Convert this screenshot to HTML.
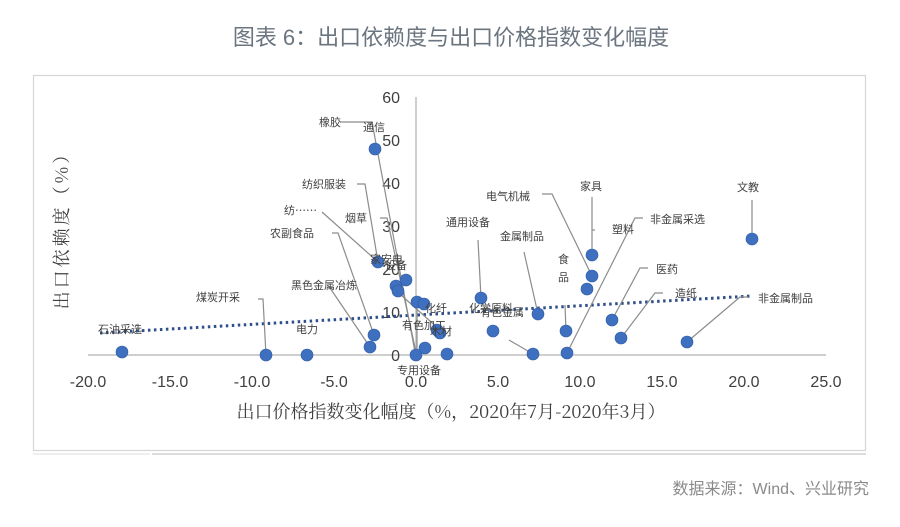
<!DOCTYPE html>
<html><head><meta charset="utf-8"><style>
html,body{margin:0;padding:0;background:#fff;}
body{width:900px;height:522px;overflow:hidden;}
svg text{font-family:"Liberation Sans","Noto Sans CJK SC",sans-serif;}
.s{font-family:"Noto Serif CJK SC","Liberation Serif",serif !important;}
</style></head><body>
<svg width="900" height="522" viewBox="0 0 900 522" xmlns="http://www.w3.org/2000/svg">
<text x="451" y="45" text-anchor="middle" font-size="22" fill="#6b7580">图表 6：出口依赖度与出口价格指数变化幅度</text>
<rect x="33.5" y="75.5" width="832" height="375" fill="none" stroke="#d6d6d6" stroke-width="1.2"/>
<line x1="33" y1="454" x2="150" y2="454" stroke="#eee" stroke-width="2"/>
<line x1="152" y1="454" x2="866" y2="454" stroke="#ddd" stroke-width="2"/>
<!-- axes -->
<line x1="88" y1="355" x2="826" y2="355" stroke="#bfbfbf" stroke-width="1.5"/>
<line x1="416" y1="97" x2="416" y2="355" stroke="#bfbfbf" stroke-width="1.5"/>
<g font-size="16" fill="#404040" text-anchor="end">
<text x="400" y="103">60</text><text x="400" y="146">50</text><text x="400" y="189">40</text>
<text x="400" y="232">30</text><text x="400" y="275">20</text><text x="400" y="318">10</text><text x="400" y="361">0</text>
</g>
<g font-size="16" fill="#404040" text-anchor="middle">
<text x="88" y="387">-20.0</text><text x="170" y="387">-15.0</text><text x="252" y="387">-10.0</text>
<text x="334" y="387">-5.0</text><text x="416" y="387">0.0</text><text x="498" y="387">5.0</text>
<text x="580" y="387">10.0</text><text x="662" y="387">15.0</text><text x="744" y="387">20.0</text><text x="826" y="387">25.0</text>
</g>
<text class="s" x="451" y="418" text-anchor="middle" font-size="18" fill="#404040">出口价格指数变化幅度（%，2020年7月-2020年3月）</text>
<text class="s" transform="translate(68,226) rotate(-90)" text-anchor="middle" font-size="18" fill="#404040" letter-spacing="3">出口依赖度（%）</text>
<!-- trend -->
<line x1="100" y1="333" x2="752" y2="296" stroke="#2f4f8a" stroke-width="3" stroke-dasharray="2.5 3.5"/>
<!-- leader lines -->
<g stroke="#8c8c8c" stroke-width="1.2" fill="none">
<polyline points="258,299 263,299 266,355"/>
<polyline points="340,122 372,122 415,352"/>
<polyline points="357,184 365,184 378,262"/>
<polyline points="322,212 378,262"/>
<polyline points="332,233 338,233 374,335"/>
<polyline points="328,285 370,347"/>
<polyline points="380,218 387,218 416,352"/>
<polyline points="401,295 440,330"/>
<polyline points="478,240 481,298"/>
<polyline points="524,252 538,314"/>
<polyline points="565,305 566,331"/>
<polyline points="542,194 552,194 592,276"/>
<polyline points="592,197 592,255"/>
<polyline points="595,230 592,230"/>
<polyline points="643,218 635,218 567,353"/>
<polyline points="648,268 640,268 612,320"/>
<polyline points="663,293 655,293 621,338"/>
<polyline points="748,297 740,297 687,342"/>
<polyline points="752,200 752,239"/>
<polyline points="509,340 533,354"/>
<polyline points="417,300 417,355"/>
</g>
<!-- points -->
<g fill="#3f6fbf" stroke="#2e5aa3" stroke-width="0.6">
<circle cx="122" cy="352" r="6"/><circle cx="266" cy="355" r="6"/><circle cx="307" cy="355" r="6"/>
<circle cx="370" cy="347" r="6"/><circle cx="374" cy="335" r="6"/><circle cx="375" cy="149" r="6"/>
<circle cx="378" cy="262" r="6"/><circle cx="396" cy="286" r="6"/><circle cx="398" cy="291" r="6"/>
<circle cx="406" cy="280" r="6"/><circle cx="416" cy="355" r="6"/><circle cx="417" cy="302" r="6"/>
<circle cx="424" cy="304" r="6"/><circle cx="425" cy="348" r="6"/><circle cx="437" cy="330" r="6"/>
<circle cx="440" cy="333" r="6"/><circle cx="447" cy="354" r="6"/><circle cx="481" cy="298" r="6"/>
<circle cx="493" cy="331" r="6"/><circle cx="533" cy="354" r="6"/><circle cx="538" cy="314" r="6"/>
<circle cx="566" cy="331" r="6"/><circle cx="567" cy="353" r="6"/><circle cx="587" cy="289" r="6"/>
<circle cx="592" cy="276" r="6"/><circle cx="592" cy="255" r="6"/><circle cx="612" cy="320" r="6"/>
<circle cx="621" cy="338" r="6"/><circle cx="687" cy="342" r="6"/><circle cx="752" cy="239" r="6"/>
</g>
<!-- labels -->
<g class="s" font-size="11" fill="#404040">
<text x="98" y="333">石油采选</text>
<text x="196" y="301">煤炭开采</text>
<text x="296" y="333">电力</text>
<text x="291" y="289">黑色金属冶炼</text>
<text x="270" y="237">农副食品</text>
<text x="284" y="214">纺⋯⋯</text>
<text x="302" y="188">纺织服装</text>
<text x="319" y="126">橡胶</text>
<text x="363" y="131">通信</text>
<text x="345" y="222">烟草</text>
<text x="370" y="263">家安电</text>
<text x="385" y="269">设备</text>
<text x="425" y="312">化纤</text>
<text x="402" y="329">有色加工</text>
<text x="430" y="335">木材</text>
<text x="397" y="374">专用设备</text>
<text x="446" y="226">通用设备</text>
<text x="469" y="312">化学原料</text>
<text x="480" y="316">有色金属</text>
<text x="500" y="240">金属制品</text>
<text x="558" y="263">食</text>
<text x="558" y="281">品</text>
<text x="486" y="200">电气机械</text>
<text x="580" y="190">家具</text>
<text x="612" y="233">塑料</text>
<text x="650" y="223">非金属采选</text>
<text x="656" y="273">医药</text>
<text x="675" y="297">造纸</text>
<text x="758" y="302">非金属制品</text>
<text x="737" y="191">文教</text>
</g>
<text x="869" y="494" text-anchor="end" font-size="16" fill="#8a8a8a">数据来源：Wind、兴业研究</text>
</svg>
</body></html>
